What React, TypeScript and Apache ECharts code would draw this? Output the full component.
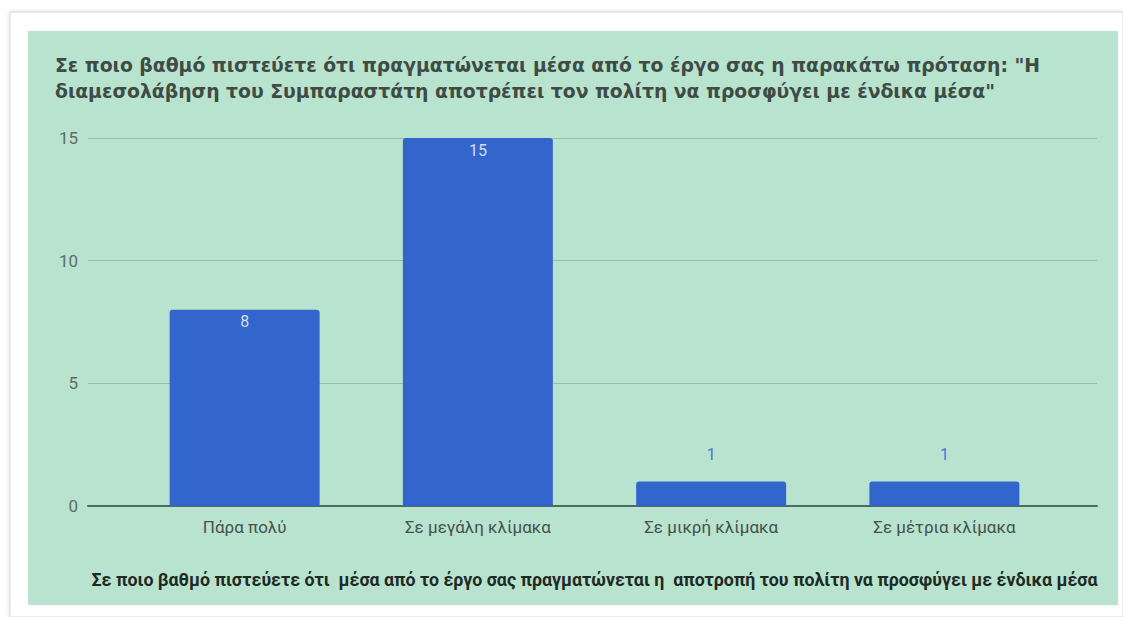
import React, { useEffect, useRef } from "react";
import * as echarts from "echarts";

const titleLines = [
  "Σε ποιο βαθμό πιστεύετε ότι πραγματώνεται μέσα από το έργο σας η παρακάτω πρόταση: \"Η",
  "διαμεσολάβηση του Συμπαραστάτη αποτρέπει τον πολίτη να προσφύγει με ένδικα μέσα\"",
];
const xAxisTitle =
  "Σε ποιο βαθμό πιστεύετε ότι  μέσα από το έργο σας πραγματώνεται η  αποτροπή του πολίτη να προσφύγει με ένδικα μέσα";
const categories = ["Πάρα πολύ", "Σε μεγάλη κλίμακα", "Σε μικρή κλίμακα", "Σε μέτρια κλίμακα"];
const values = [8, 15, 1, 1];
const yMin = 0;
const yMax = 15;
const yInterval = 5;

export default function App() {
  const ref = useRef<HTMLDivElement>(null);
  useEffect(() => {
    if (!ref.current) return;
    const chart = echarts.init(ref.current, null, { renderer: "svg" });
    const font = "Roboto, 'Noto Sans', sans-serif";
    chart.setOption({
      animation: false,
      backgroundColor: "#ffffff",
      textStyle: { fontFamily: font },
      graphic: [
        { type: "rect", shape: { x: 10, y: 12, width: 1113, height: 605 }, style: { fill: "#ffffff", stroke: "#d6d6d6", lineWidth: 1, shadowBlur: 4, shadowColor: "rgba(0,0,0,0.15)" }, z: -20 },
        { type: "rect", shape: { x: 28, y: 31, width: 1090, height: 574 }, style: { fill: "#b8e3cf" }, z: -10 },
      ],
      title: {
        text: titleLines.join("\n"),
        left: 50,
        top: 47,
        textStyle: { fontFamily: "'DejaVu Sans', sans-serif", fontSize: 18.8, fontWeight: "bold", color: "#3f4b45", lineHeight: 26 },
      },
      grid: [
        { left: 88, right: 26, top: 138, bottom: 111 },
        { left: 128, right: 62, top: 138, bottom: 111 },
      ],
      xAxis: [
        {
          gridIndex: 0, type: "value", min: 0, max: 1,
          axisLabel: { show: false }, axisTick: { show: false }, splitLine: { show: false },
          axisLine: { show: true, onZero: false, lineStyle: { color: "#4f6b5d", width: 2 } },
        },
        {
          gridIndex: 1, type: "category", data: categories,
          axisLine: { show: false }, axisTick: { show: false },
          axisLabel: { color: "#45524c", fontSize: 17, margin: 12, fontFamily: font },
          name: xAxisTitle, nameLocation: "middle", nameGap: 64,
          nameTextStyle: { color: "#1e2a24", fontSize: 17.8, fontWeight: "bold", fontFamily: font },
        },
      ],
      yAxis: [
        {
          gridIndex: 0, type: "value", min: yMin, max: yMax, interval: yInterval,
          axisLine: { show: false }, axisTick: { show: false },
          axisLabel: { color: "#5f6d66", fontSize: 17, margin: 10 },
          splitLine: { lineStyle: { color: "#90c2ab", width: 1 } },
        },
        {
          gridIndex: 1, type: "value", min: yMin, max: yMax, interval: yInterval, show: false,
          splitLine: { show: false },
        },
      ],
      series: [
        {
          type: "bar",
          xAxisIndex: 1,
          yAxisIndex: 1,
          barWidth: 150,
          itemStyle: { color: "#3366cc", borderRadius: [3, 3, 0, 0] },
          data: values.map((v) => ({
            value: v,
            label: v >= 3
              ? { show: true, position: "insideTop", distance: 4, color: "#d3dff7", fontSize: 16 }
              : { show: true, position: "top", distance: 19, color: "#4a78d4", fontSize: 16 },
          })),
        },
      ],
    });
    return () => chart.dispose();
  }, []);
  return (
    <div
      ref={ref}
      style={{ position: "absolute", left: 0, top: 0, width: 1123, height: 617 }}
    />
  );
}
